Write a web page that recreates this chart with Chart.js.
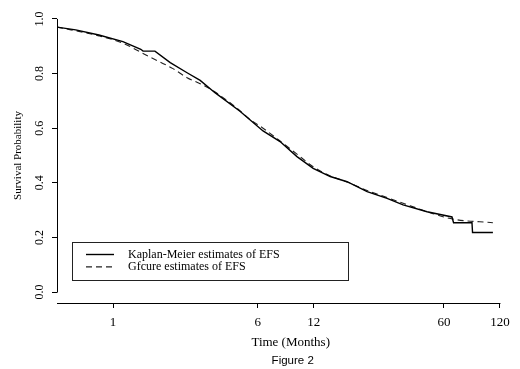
<!DOCTYPE html>
<html>
<head>
<meta charset="utf-8">
<script src="https://cdn.jsdelivr.net/npm/chart.js@4"></script>
<style>
  html, body { margin: 0; padding: 0; background: #fff; }
  #wrap { width: 520px; height: 369px; }
</style>
</head>
<body>
<div id="wrap"><canvas id="chart" width="520" height="369"></canvas></div>
<script>
// Kaplan-Meier estimate (months, survival)
const kmMonths = [0.5, 0.63, 0.84, 1.13, 1.41, 1.45, 1.68, 2.03, 2.5, 2.94, 3.53, 4.81, 6.4, 7.9, 9.74, 11.9, 14.7, 18.1, 23.2, 29.7, 36.2, 48.7, 66.3, 67.6, 84.9, 85.5, 110];
const kmSurv = [0.970, 0.960, 0.941, 0.917, 0.889, 0.882, 0.882, 0.840, 0.803, 0.775, 0.730, 0.662, 0.590, 0.551, 0.496, 0.453, 0.423, 0.404, 0.368, 0.343, 0.319, 0.294, 0.275, 0.254, 0.254, 0.218, 0.218];

// Gfcure estimate
const cureMonths = [0.5, 0.84, 1.13, 1.56, 2.1, 2.5, 2.94, 3.45, 4.64, 5.45, 6.4, 7.9, 9.74, 11.9, 14.7, 18.1, 23.2, 29.7, 39.5, 52.4, 67.1, 110];
const cureSurv = [0.970, 0.938, 0.911, 0.862, 0.818, 0.785, 0.763, 0.737, 0.673, 0.632, 0.600, 0.553, 0.505, 0.459, 0.425, 0.403, 0.372, 0.346, 0.316, 0.287, 0.267, 0.254];

const xTicks = [1, 6, 12, 60, 120];
const yTicks = [0, 0.2, 0.4, 0.6, 0.8, 1.0];
const seriesLabels = ['Kaplan-Meier estimates of EFS', 'Gfcure estimates of EFS'];

const serif = '"Liberation Serif", "Times New Roman", serif';
const sans = '"Liberation Sans", Arial, sans-serif';

Chart.defaults.color = '#000';

const toPoints = (xs, ys) => xs.map((x, i) => ({ x: x, y: ys[i] }));

// axes, rotated y labels, titles and the boxed legend, R style
const decorations = {
    id: 'decorations',
    afterDraw(chart) {
        const { ctx, chartArea } = chart;
        const xs = chart.scales.x;
        const ys = chart.scales.y;
        ctx.save();
        ctx.strokeStyle = '#000';
        ctx.lineWidth = 1;

        // axis lines
        const y0 = Math.round(chartArea.bottom) + 0.5;
        ctx.beginPath();
        ctx.moveTo(chartArea.left, y0);
        ctx.lineTo(xs.getPixelForValue(xTicks[xTicks.length - 1]) + 0.5, y0);
        const x0 = Math.round(chartArea.left) + 0.5;
        ctx.moveTo(x0, ys.getPixelForValue(yTicks[0]) + 0.5);
        ctx.lineTo(x0, ys.getPixelForValue(yTicks[yTicks.length - 1]));
        ctx.stroke();

        // y tick labels, vertical
        ctx.fillStyle = '#000';
        ctx.font = '12px ' + serif;
        ctx.textAlign = 'center';
        ctx.textBaseline = 'middle';
        yTicks.forEach(v => {
            ctx.save();
            ctx.translate(chartArea.left - 17, ys.getPixelForValue(v));
            ctx.rotate(-Math.PI / 2);
            ctx.fillText(v.toFixed(1), 0, 0);
            ctx.restore();
        });

        // y title
        ctx.save();
        ctx.font = '11px ' + serif;
        ctx.translate(18, (chartArea.top + chartArea.bottom) / 2);
        ctx.rotate(-Math.PI / 2);
        ctx.fillText('Survival Probability', 0, 0);
        ctx.restore();

        // x title and caption
        const cx = (chartArea.left + chartArea.right) / 2 + 6;
        ctx.font = '13px ' + serif;
        ctx.fillText('Time (Months)', cx, chartArea.bottom + 40);
        ctx.font = '11.5px ' + sans;
        ctx.fillText('Figure 2', cx + 2, chartArea.bottom + 58);

        // legend box
        const lx = chartArea.left + 15, ly = 242.5;
        ctx.strokeStyle = '#222';
        ctx.strokeRect(lx + 0.5, ly, 276, 38);
        const datasets = chart.data.datasets;
        ctx.textAlign = 'left';
        ctx.font = '12px ' + serif;
        seriesLabels.forEach((label, i) => {
            const ry = ly + 12 + i * 12.4;
            const ds = datasets[i];
            ctx.beginPath();
            ctx.setLineDash(ds.borderDash || []);
            ctx.strokeStyle = ds.borderColor;
            ctx.lineWidth = ds.borderWidth;
            ctx.moveTo(lx + 14, ry);
            ctx.lineTo(lx + 42, ry);
            ctx.stroke();
            ctx.setLineDash([]);
            ctx.fillText(label, lx + 56, ry);
        });
        ctx.restore();
    }
};

new Chart(document.getElementById('chart'), {
    type: 'line',
    data: {
        datasets: [{
            label: seriesLabels[0],
            data: toPoints(kmMonths, kmSurv),
            borderColor: '#000',
            borderWidth: 1.4,
            pointRadius: 0,
            tension: 0,
            fill: false
        }, {
            label: seriesLabels[1],
            data: toPoints(cureMonths, cureSurv),
            borderColor: '#222',
            borderWidth: 1.1,
            borderDash: [6, 4],
            pointRadius: 0,
            cubicInterpolationMode: 'monotone',
            fill: false
        }]
    },
    options: {
        responsive: false,
        animation: false,
        devicePixelRatio: 1,
        layout: {
            padding: { top: 8, right: 7.6, left: 0, bottom: 0 }
        },
        plugins: {
            legend: { display: false },
            tooltip: { enabled: false }
        },
        scales: {
            x: {
                type: 'logarithmic',
                min: 0.5,
                max: 140,
                afterBuildTicks: scale => {
                    scale.ticks = xTicks.map(v => ({ value: v }));
                },
                afterFit: scale => { scale.height = 66; },
                border: { display: false },
                grid: {
                    drawOnChartArea: false,
                    drawTicks: true,
                    tickLength: 5,
                    color: '#000'
                },
                ticks: {
                    autoSkip: false,
                    maxRotation: 0,
                    padding: 7,
                    font: { family: serif, size: 13 },
                    callback: v => String(v)
                }
            },
            y: {
                min: -0.04,
                max: 1.04,
                afterBuildTicks: scale => {
                    scale.ticks = yTicks.map(v => ({ value: v }));
                },
                afterFit: scale => { scale.width = 57; },
                border: { display: false },
                grid: {
                    drawOnChartArea: false,
                    drawTicks: true,
                    tickLength: 5,
                    color: '#000'
                },
                ticks: { display: false }
            }
        }
    },
    plugins: [decorations]
});
</script>
</body>
</html>
